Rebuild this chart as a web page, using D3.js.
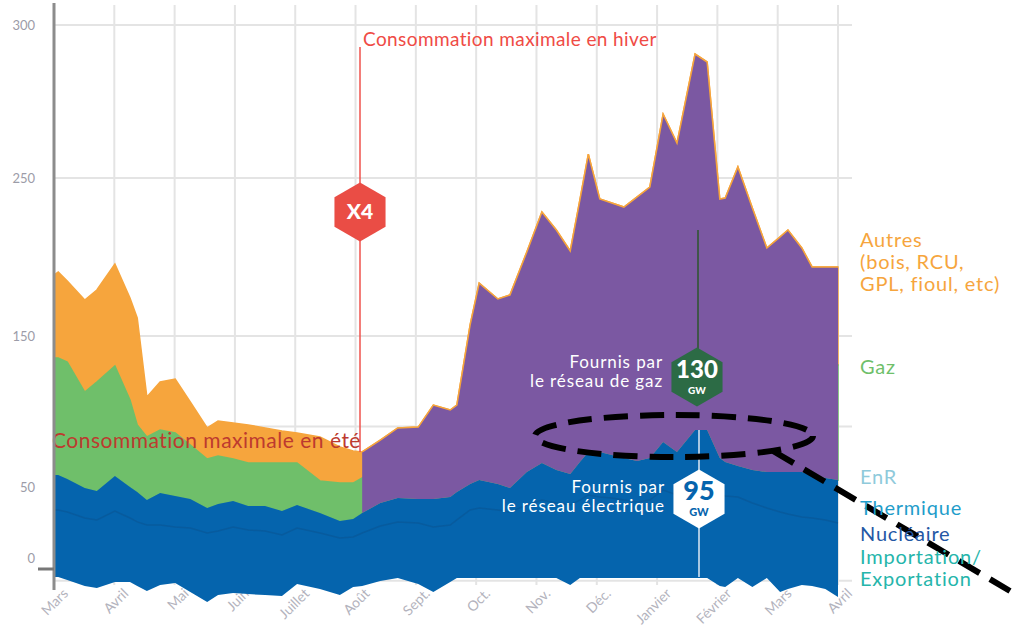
<!DOCTYPE html>
<html lang="fr">
<head>
<meta charset="UTF-8">
<title>Consommation maximale été / hiver</title>
<style>
  body { margin: 0; background: #fff; }
  svg { display: block; font-family: Lato, "Open Sans", sans-serif; }
</style>
<script src="https://d3js.org/d3.v7.min.js"></script>
</head>
<body>
<script>
// position of each point, in months from 1 March
var mois = [0, 0.07, 0.22, 0.51, 0.71, 1.01, 1.26, 1.38, 1.54, 1.76,
  2.01, 2.26, 2.54, 2.72, 2.97, 3.22, 3.50, 3.78, 4.03, 4.41,
  4.74, 4.96, 5.11, 5.41, 5.70, 6.04, 6.29, 6.57, 6.68, 6.90,
  7.05, 7.36, 7.56, 7.84, 8.09, 8.33, 8.56, 8.72, 8.86, 9.05,
  9.25, 9.45, 9.67, 9.88, 10.10, 10.33, 10.63, 10.83, 11.04, 11.13,
  11.34, 11.58, 11.82, 12.04, 12.17, 12.40, 12.57, 12.79, 13.00];

var importExport = [-13.4, -13.4, -15.5, -19.7, -21.1, -16.9, -16.9, -19.7, -23.2, -19.0,
  -17.6, -23.9, -31.0, -26.1, -24.6, -25.4, -26.1, -26.8, -18.3, -21.8,
  -26.1, -20.4, -19.7, -16.2, -14.1, -18.3, -23.9, -16.9, -14.1, -14.1,
  -14.1, -14.1, -14.1, -14.1, -14.1, -14.1, -19.0, -14.1, -14.1, -14.1,
  -14.1, -14.1, -14.1, -14.1, -14.1, -14.1, -14.1, -14.1, -19.7, -20.4,
  -14.1, -20.4, -14.1, -23.9, -21.8, -19.0, -19.7, -21.8, -27.5];
var nucleaire = [33.8, 33.8, 32.4, 28.2, 26.8, 33.1, 28.2, 25.4, 23.2, 23.2,
  21.8, 21.1, 17.6, 19.0, 21.8, 19.7, 19.0, 16.2, 21.1, 17.6,
  14.1, 14.8, 17.6, 22.5, 25.4, 24.6, 21.8, 23.2, 26.8, 33.8,
  35.2, 33.8, 32.4, 37.3, 40.8, 38.7, 37.3, 40.8, 44.4, 43.0,
  42.3, 40.8, 39.4, 40.8, 47.9, 44.4, 51.3, 51.3, 44.4, 43.7,
  43.0, 38.7, 35.2, 32.4, 31.0, 28.9, 28.2, 26.8, 24.6];
var thermique = [21.1, 21.1, 19.9, 18.1, 17.4, 21.2, 18.8, 18.1, 14.6, 19.6,
  18.9, 17.4, 15.1, 16.5, 15.8, 14.4, 15.1, 14.4, 13.7, 12.1,
  10.0, 10.7, 12.1, 14.2, 14.4, 14.4, 17.2, 17.3, 17.2, 15.7,
  16.4, 15.2, 13.9, 19.6, 22.1, 19.6, 18.3, 22.8, 25.3, 26.7,
  25.4, 24.9, 24.3, 24.9, 28.4, 25.3, 32.4, 32.4, 21.3, 19.4,
  17.9, 19.6, 21.7, 24.5, 25.9, 28.0, 26.7, 26.2, 27.0];
var enr = [3, 3, 3, 3, 3, 3, 3, 3, 3, 3,
  3, 3, 2.5, 2.5, 2.5, 2.5, 2.5, 2.5, 2.5, 2,
  2, 2, 2, 2, 2.5, 2.5, 2.5, 2.5, 2.5, 2.5,
  3, 3, 3, 3, 3, 3, 3, 3, 3.5, 3.5,
  3.5, 3.5, 3.5, 3.5, 3.5, 3.5, 4, 4, 3.5, 3.5,
  3, 3, 3, 3, 3, 3, 3, 3, 3];
var gaz = [77.5, 77.5, 77.5, 63.6, 72.3, 72.8, 57.6, 44.6, 42.3, 41.9,
  42.1, 36.3, 33.3, 32.5, 28.4, 29.3, 29.3, 32.8, 28.6, 22.3,
  26.5, 25.1, 24.3, 22.6, 24.3, 26.4, 34.3, 30.2, 30.7, 55.6,
  72.9, 68.9, 72.9, 80.8, 94.2, 92.5, 85.4, 99.9, 112.2, 92.0,
  92.1, 92.2, 99.3, 103.6, 124.6, 118.6, 142.0, 138.9, 96.0, 99.2,
  115.2, 100.1, 84.1, 88.8, 92.0, 84.1, 72.9, 74.8, 76.2];
var autres = [53.2, 55.1, 52.0, 59.9, 59.6, 65.5, 66.5, 70.3, 26.5, 31.8,
  35.7, 28.5, 20.6, 23.2, 23.9, 25.2, 23.2, 21.2, 19.9, 29.1,
  23.9, 21.2, 17.2, 19.8, 22.5, 21.8, 28.5, 27.8, 27.1, 49.4,
  56.0, 52.5, 53.7, 62.5, 68.4, 63.3, 59.8, 69.6, 72.4, 71.5,
  70.9, 70.2, 71.5, 71.5, 66.5, 69.6, 60.8, 61.3, 71.5, 71.5,
  74.5, 69.6, 61.7, 64.0, 65.2, 61.7, 62.9, 62.9, 62.9];

var moisLabels = ["Mars", "Avril", "Mai", "Juin", "Juillet", "Août", "Sept.",
  "Oct.", "Nov.", "Déc.", "Janvier", "Février", "Mars", "Avril"];
var yTicks = [0, 50, 150, 250, 300];
var gridValues = [-16, 90, 150, 250, 300];
var debutHiver = 5.11;

var legende = [
  { lignes: ["Autres", "(bois, RCU,", "GPL, fioul, etc)"], y: 240, color: "#f6a53d" },
  { lignes: ["Gaz"], y: 367, color: "#6fbf6a" },
  { lignes: ["EnR"], y: 477, color: "#8fcadb" },
  { lignes: ["Thermique"], y: 508, color: "#1f9dca" },
  { lignes: ["Nucléaire"], y: 534, color: "#2457a4" },
  { lignes: ["Importation/", "Exportation"], y: 557, color: "#26b5ab" }
];

var BLUE = "#0564ad", GREEN = "#6fbf6a", ORANGE = "#f6a53d", PURPLE = "#7b58a2";

var svg = d3.select("body").append("svg").attr("width", 1012).attr("height", 630);

var x = d3.scaleLinear().domain([0, 13]).range([54, 838]);
var y = d3.scaleLinear().domain([0, 50, 150, 250, 300]).range([558, 487, 336, 178, 25]);

var rows = mois.map(function (m, i) {
  return { mois: m, importExport: importExport[i], nucleaire: nucleaire[i],
    thermique: thermique[i], enr: enr[i], gaz: gaz[i], autres: autres[i] };
});
var keys = ["importExport", "nucleaire", "thermique", "enr", "gaz", "autres"];
var series = d3.stack().keys(keys).offset(d3.stackOffsetDiverging)(rows);
var byKey = {};
series.forEach(function (s) { byKey[s.key] = s; });

// grid
var grid = svg.append("g");
grid.selectAll("line.v").data(d3.range(1, 14)).enter().append("line")
  .attr("x1", function (d) { return x(d); }).attr("x2", function (d) { return x(d); })
  .attr("y1", 5).attr("y2", 585)
  .attr("stroke", "#e4e4e4").attr("stroke-width", 2);
grid.selectAll("line.h").data(gridValues).enter().append("line")
  .attr("x1", 54).attr("x2", 852)
  .attr("y1", function (d) { return y(d); }).attr("y2", function (d) { return y(d); })
  .attr("stroke", "#e4e4e4").attr("stroke-width", 2);

// month labels sit under the areas, as in the original
var xAxis = svg.append("g").attr("transform", "translate(0,585)")
  .call(d3.axisBottom(x).tickValues(d3.range(0, 14)).tickSize(0)
    .tickFormat(function (d) { return moisLabels[d]; }));
xAxis.select(".domain").remove();
xAxis.selectAll("text")
  .attr("y", 0).attr("dy", "0.35em").attr("text-anchor", "end")
  .attr("transform", "translate(11,6) rotate(-45)")
  .attr("fill", "#b3b3bd").attr("font-size", 14)
  .style("font-family", "Lato, sans-serif");

// areas
var area = d3.area()
  .x(function (d) { return x(d.data.mois); })
  .y0(function (d) { return y(d[0]); })
  .y1(function (d) { return y(d[1]); });

svg.append("path").datum(byKey.autres).attr("d", area)
  .attr("fill", ORANGE).attr("stroke", ORANGE).attr("stroke-width", 1.5);
svg.append("path").datum(byKey.gaz).attr("d", area)
  .attr("fill", GREEN).attr("stroke", GREEN).attr("stroke-width", 1.5);

var elec = rows.map(function (r, i) {
  return { mois: r.mois, bas: byKey.importExport[i][0], haut: byKey.enr[i][1],
    nuc: byKey.nucleaire[i][1], total: byKey.autres[i][1] };
});
svg.append("path").datum(elec)
  .attr("d", d3.area()
    .x(function (d) { return x(d.mois); })
    .y0(function (d) { return y(d.bas); })
    .y1(function (d) { return y(d.haut); }))
  .attr("fill", BLUE);
svg.append("path").datum(elec)
  .attr("d", d3.line()
    .x(function (d) { return x(d.mois); })
    .y(function (d) { return y(d.nuc); }))
  .attr("fill", "none").attr("stroke", "#0a4f8c").attr("stroke-opacity", 0.45).attr("stroke-width", 1.5);

// winter: gas network
var hiver = elec.filter(function (d) { return d.mois >= debutHiver; });
svg.append("path").datum(hiver)
  .attr("d", d3.area()
    .x(function (d) { return x(d.mois); })
    .y0(function (d) { return y(d.haut); })
    .y1(function (d) { return y(d.total); }))
  .attr("fill", PURPLE);
svg.append("path").datum(hiver)
  .attr("d", d3.line()
    .x(function (d) { return x(d.mois); })
    .y(function (d) { return y(d.total); }))
  .attr("fill", "none").attr("stroke", ORANGE).attr("stroke-width", 1.5);

function hexagone(g, cx, cy, r, fill) {
  var pts = d3.range(6).map(function (k) {
    var a = Math.PI / 3 * k - Math.PI / 2;
    return [cx + r * Math.cos(a), cy + r * Math.sin(a)];
  });
  g.append("path").attr("d", "M" + pts.join("L") + "Z").attr("fill", fill);
}

// winter peak annotation
var ann = svg.append("g");
ann.append("line").attr("x1", 360).attr("x2", 360).attr("y1", 47).attr("y2", 452)
  .attr("stroke", "#ef524c").attr("stroke-width", 1.5);
ann.append("text").attr("x", 363).attr("y", 46).attr("fill", "#ef4b45")
  .attr("font-size", 19).attr("letter-spacing", 0.4).text("Consommation maximale en hiver");
hexagone(ann, 360, 212, 29.5, "#ea4d45");
ann.append("text").attr("x", 360).attr("y", 219).attr("text-anchor", "middle")
  .attr("fill", "#fff").attr("font-size", 21).attr("font-weight", 900).text("X4");

ann.append("text").attr("x", 52).attr("y", 448).attr("fill", "#bd3a2f")
  .attr("font-size", 21).attr("letter-spacing", 0.5).text("Consommation maximale en été");

// gas / electricity callouts
ann.append("line").attr("x1", 698).attr("x2", 698).attr("y1", 230).attr("y2", 350)
  .attr("stroke", "#3f554a").attr("stroke-width", 2);
ann.append("line").attr("x1", 699).attr("x2", 699).attr("y1", 430).attr("y2", 577)
  .attr("stroke", "#cfe0ef").attr("stroke-opacity", 0.8).attr("stroke-width", 2);
hexagone(ann, 697, 377, 29.5, "#2c6b45");
ann.append("text").attr("x", 697).attr("y", 378).attr("text-anchor", "middle")
  .attr("fill", "#fff").attr("font-size", 24).attr("font-weight", 900).text("130");
ann.append("text").attr("x", 697).attr("y", 394).attr("text-anchor", "middle")
  .attr("fill", "#fff").attr("font-size", 10).attr("font-weight", 900).text("GW");
hexagone(ann, 699, 499, 29.5, "#fff");
ann.append("text").attr("x", 699).attr("y", 500).attr("text-anchor", "middle")
  .attr("fill", BLUE).attr("font-size", 27).attr("font-weight", 900).text("95");
ann.append("text").attr("x", 699).attr("y", 516).attr("text-anchor", "middle")
  .attr("fill", BLUE).attr("font-size", 11).attr("font-weight", 900).text("GW");

[["Fournis par", 368], ["le réseau de gaz", 387]].forEach(function (t) {
  ann.append("text").attr("x", 663).attr("y", t[1]).attr("text-anchor", "end")
    .attr("fill", "#fff").attr("font-size", 17).attr("letter-spacing", 0.9).text(t[0]);
});
[["Fournis par", 493], ["le réseau électrique", 512]].forEach(function (t) {
  ann.append("text").attr("x", 665).attr("y", t[1]).attr("text-anchor", "end")
    .attr("fill", "#fff").attr("font-size", 17).attr("letter-spacing", 0.9).text(t[0]);
});

// dashed highlight
ann.append("ellipse").attr("cx", 674).attr("cy", 436).attr("rx", 139).attr("ry", 21)
  .attr("fill", "none").attr("stroke", "#000").attr("stroke-width", 6)
  .attr("stroke-dasharray", "24 12");
ann.append("line").attr("x1", 773).attr("y1", 451).attr("x2", 1010).attr("y2", 591)
  .attr("stroke", "#000").attr("stroke-width", 6).attr("stroke-dasharray", "24 12");

// y axis
var yAxis = svg.append("g").attr("transform", "translate(54,0)")
  .call(d3.axisLeft(y).tickValues(yTicks).tickSize(0).tickPadding(19));
yAxis.select(".domain").remove();
yAxis.selectAll("text").attr("fill", "#9c9ca8").attr("font-size", 13)
  .style("font-family", "Lato, sans-serif");
svg.append("line").attr("x1", 54).attr("x2", 54).attr("y1", 3).attr("y2", 590)
  .attr("stroke", "#8c8c8c").attr("stroke-width", 3);
svg.append("line").attr("x1", 38).attr("x2", 54).attr("y1", 569).attr("y2", 569)
  .attr("stroke", "#777").attr("stroke-width", 3);

// legend
var leg = svg.append("g");
legende.forEach(function (l) {
  l.lignes.forEach(function (t, k) {
    leg.append("text").attr("x", 860).attr("y", l.y + k * 22).attr("dy", "0.35em")
      .attr("fill", l.color).attr("font-size", 20).attr("letter-spacing", 0.8).text(t);
  });
});
</script>
</body>
</html>
